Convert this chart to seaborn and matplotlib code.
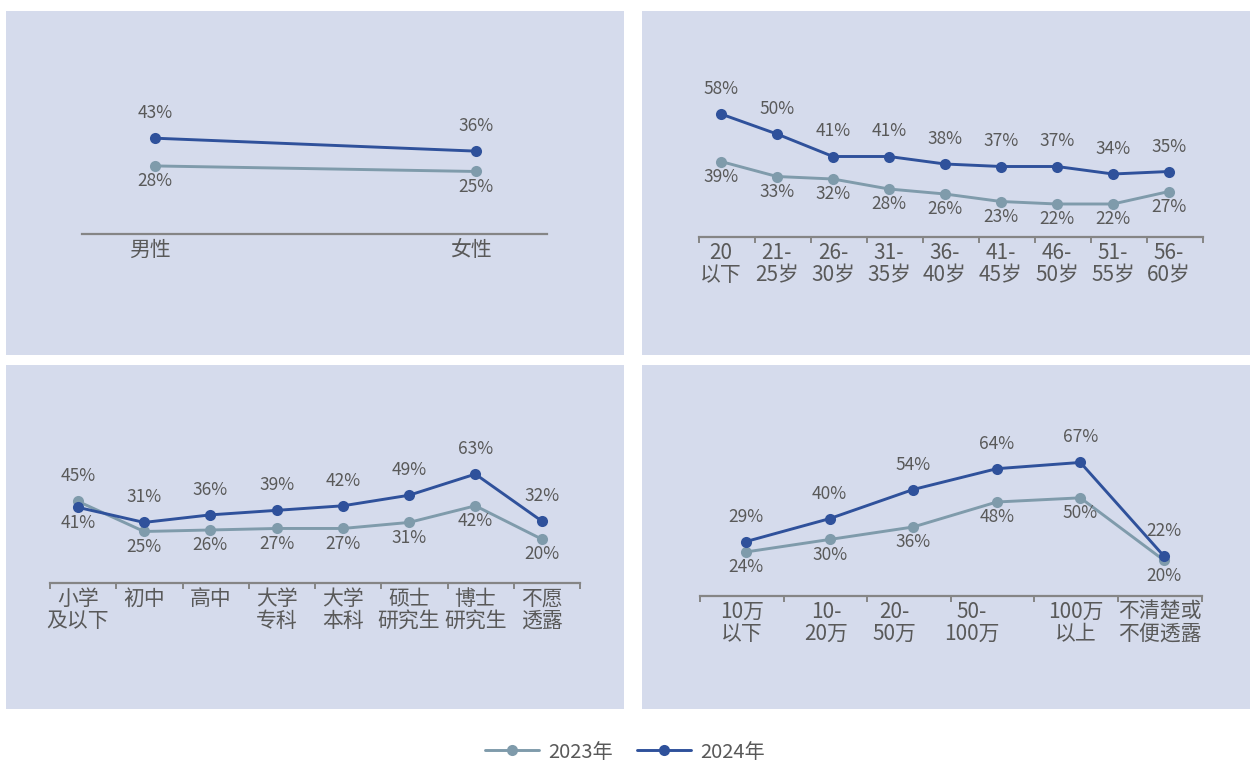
import numpy as np
import pandas as pd
import matplotlib
matplotlib.use("Agg")
import matplotlib.pyplot as plt
from matplotlib.patches import Rectangle
import seaborn as sns

# ---------------- data ----------------
years = ["2023年", "2024年"]

gender_cats = ["男性", "女性"]
gender_2023 = [28, 25]
gender_2024 = [43, 36]

age_cats = ["20\n以下", "21-\n25岁", "26-\n30岁", "31-\n35岁", "36-\n40岁",
            "41-\n45岁", "46-\n50岁", "51-\n55岁", "56-\n60岁"]
age_2023 = [39, 33, 32, 28, 26, 23, 22, 22, 27]
age_2024 = [58, 50, 41, 41, 38, 37, 37, 34, 35]

edu_cats = ["小学\n及以下", "初中", "高中", "大学\n专科", "大学\n本科",
            "硕士\n研究生", "博士\n研究生", "不愿\n透露"]
edu_2023 = [45, 25, 26, 27, 27, 31, 42, 20]
edu_2024 = [41, 31, 36, 39, 42, 49, 63, 32]

inc_cats = ["10万\n以下", "10-\n20万", "20-\n50万", "50-\n100万", "100万\n以上",
            "不清楚或\n不便透露"]
inc_2023 = [24, 30, 36, 48, 50, 20]
inc_2024 = [29, 40, 54, 64, 67, 22]

# ---------------- style ----------------
sns.set_theme(style="white")
plt.rcParams["font.family"] = ["Noto Sans CJK SC", "DejaVu Sans"]

W, H = 1250, 764
BG = "#d5dbec"
C23 = "#7f9bab"
C24 = "#2f519b"
TXT = "#595959"
AX = "#858585"
palette = {years[0]: C23, years[1]: C24}

fig = plt.figure(figsize=(W / 100, H / 100), dpi=100)
fig.patch.set_facecolor("white")

# panel backgrounds (pixel boxes: x0, y0, x1, y1 from top-left)
for (x0, y0, x1, y1) in [(6, 11, 624, 355), (642, 11, 1250, 355),
                         (6, 365, 624, 709), (642, 365, 1250, 709)]:
    fig.patches.append(Rectangle((x0 / W, 1 - y1 / H), (x1 - x0) / W, (y1 - y0) / H,
                                 transform=fig.transFigure, facecolor=BG,
                                 edgecolor="none", zorder=-1))


def make_ax(x0, x1, ytop, ybot):
    ax = fig.add_axes([x0 / W, 1 - ybot / H, (x1 - x0) / W, (ybot - ytop) / H])
    ax.set_facecolor("none")
    ax.patch.set_visible(False)
    return ax


def draw_panel(ax, cats, v23, v24, xlim, ylim, bounds, label_pos, legend=False):
    n = len(cats)
    df = pd.DataFrame({
        "x": list(range(n)) * 2,
        "value": list(v23) + list(v24),
        "year": [years[0]] * n + [years[1]] * n,
    })
    sns.lineplot(data=df, x="x", y="value", hue="year", palette=palette,
                 hue_order=years, marker="o", markersize=8, markeredgewidth=0,
                 linewidth=2.1, ax=ax, legend=legend, sort=False)
    for i in range(n):
        a, b = v23[i], v24[i]
        hi, lo = (b, a) if b >= a else (a, b)
        ax.annotate(f"{hi}%", (i, hi), xytext=(0, 18), textcoords="offset points",
                    ha="center", va="center", fontsize=12.5, color=TXT)
        ax.annotate(f"{lo}%", (i, lo), xytext=(0, -11), textcoords="offset points",
                    ha="center", va="center", fontsize=12.5, color=TXT)
    ax.set_xlim(*xlim)
    ax.set_ylim(*ylim)
    ax.set_xlabel("")
    ax.set_ylabel("")
    ax.set_yticks([])
    for s in ["top", "right", "left"]:
        ax.spines[s].set_visible(False)
    ax.spines["bottom"].set_color(AX)
    ax.spines["bottom"].set_linewidth(1.6)
    ax.set_xticks(label_pos)
    ax.set_xticklabels(cats, fontsize=15, color=TXT, linespacing=1.0)
    ax.tick_params(axis="x", which="major", length=0, pad=3.5)
    if bounds is not None:
        ax.set_xticks(bounds, minor=True)
        ax.tick_params(axis="x", which="minor", length=4, width=1.4, color=AX,
                       direction="out", bottom=True)
    return ax


ax1 = make_ax(82, 547, 20, 234)
draw_panel(ax1, gender_cats, gender_2023, gender_2024,
           (-0.227, 1.221), (-8.8, 106.9), None, [-0.015, 0.985], legend=True)
handles, labels = ax1.get_legend_handles_labels()
if ax1.get_legend() is not None:
    ax1.get_legend().remove()

ax2 = make_ax(699, 1203, 20, 237)
draw_panel(ax2, age_cats, age_2023, age_2024,
           (-0.392, 8.59), (8.8, 95.6), np.arange(10) - 0.392, np.arange(9))

ax3 = make_ax(50, 580, 375, 583)
draw_panel(ax3, edu_cats, edu_2023, edu_2024,
           (-0.42, 7.575), (-9.1, 128.6), np.arange(9) - 0.42, np.arange(8))

ax4 = make_ax(700, 1202, 375, 596)
draw_panel(ax4, inc_cats, inc_2023, inc_2024,
           (-0.55, 5.455), (2.85, 109), np.arange(7) - 0.55,
           [-0.05, 0.96, 1.77, 2.70, 3.95, 4.95])

leg = fig.legend(handles, labels, loc="center", bbox_to_anchor=(0.5, 1 - 752 / H),
                 ncol=2, frameon=False, fontsize=14.5, handlelength=2.7,
                 columnspacing=1.2, handletextpad=0.45, borderpad=0.2)
for t in leg.get_texts():
    t.set_color(TXT)

fig.savefig("out.png", dpi=100, facecolor="white")
